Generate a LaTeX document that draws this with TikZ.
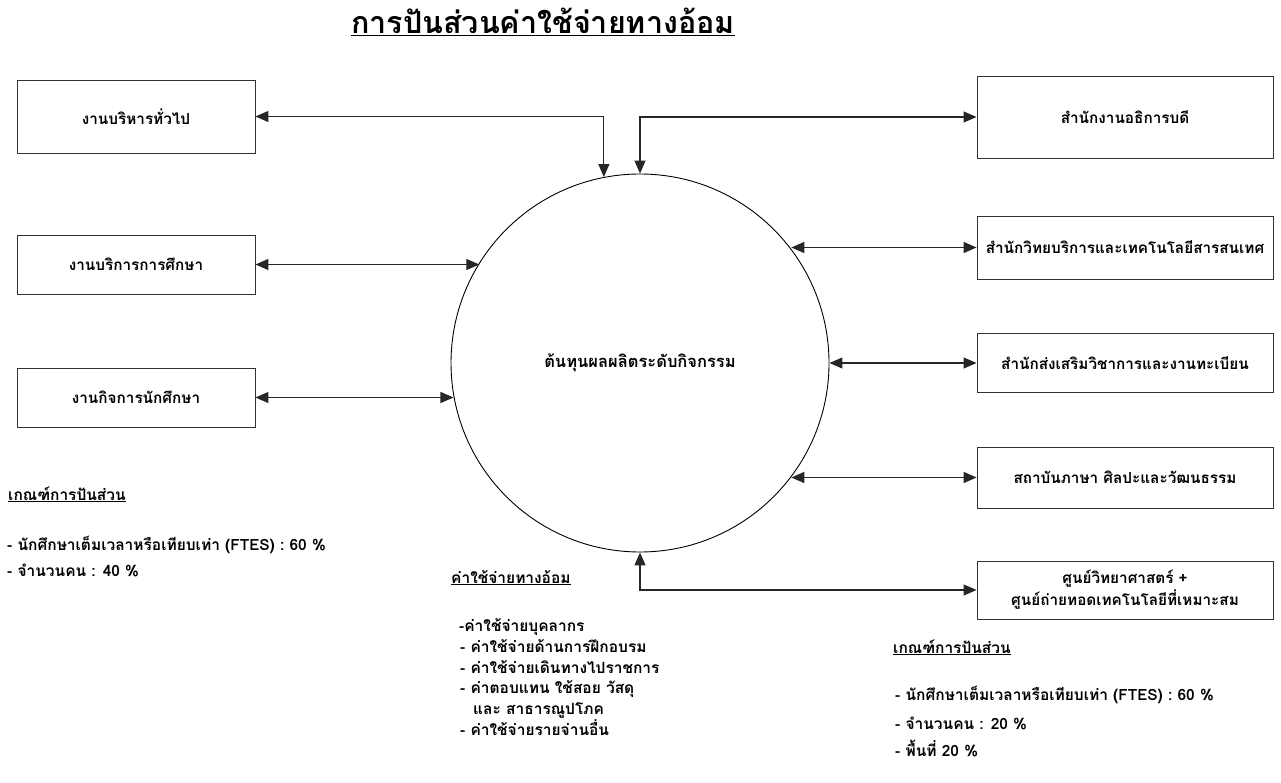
\documentclass[tikz,border=0pt]{standalone}
\usepackage{fontspec}
\setmainfont[Script=Thai]{Loma}
\usetikzlibrary{arrows.meta}
\tikzset{
  box/.style={draw=black!80, line width=0.9pt, inner sep=2pt, align=center,
    font=\fontsize{15.3}{22}\selectfont\bfseries},
  lbox/.style={box, minimum width=238pt},
  rbox/.style={box, minimum width=296pt},
  conn/.style={black!85, line width=1.2pt,
    {Triangle[length=13pt,width=11pt]}-{Triangle[length=13pt,width=11pt]}},
  txt/.style={anchor=base west, inner sep=0pt, font=\fontsize{15.5}{18}\selectfont\bfseries},
}
\begin{document}
\begin{tikzpicture}[x=1pt,y=-1pt]
\useasboundingbox (0,0) rectangle (1281,783);
% title
\node[inner sep=0pt, anchor=base, font=\fontsize{30.5}{34}\selectfont\bfseries] (title) at (543,34) {\underline{การปันส่วนค่าใช้จ่ายทางอ้อม}};
% centre circle
\node[circle, draw=black, line width=0.9pt, minimum size=378pt, inner sep=0pt,
  font=\fontsize{16.5}{20}\selectfont\bfseries] (c) at (640,363) {ต้นทุนผลผลิตระดับกิจกรรม};
% left boxes
\node[lbox, minimum height=73pt] (b1) at (136,116.5) {งานบริหารทั่วไป};
\node[lbox, minimum height=59pt] (b2) at (136,264.5) {งานบริการการศึกษา};
\node[lbox, minimum height=59pt] (b3) at (136,397.5) {งานกิจการนักศึกษา};
% right boxes
\node[rbox, minimum height=82pt] (b6) at (1125,117) {สำนักงานอธิการบดี};
\node[rbox, minimum height=63pt] (b7) at (1125,247.5) {สำนักวิทยบริการและเทคโนโลยีสารสนเทศ};
\node[rbox, minimum height=59pt] (b8) at (1125,363) {สำนักส่งเสริมวิชาการและงานทะเบียน};
\node[rbox, minimum height=61pt] (b9) at (1125,477.5) {สถาบันภาษา ศิลปะและวัฒนธรรม};
\node[rbox, minimum height=58pt] (b10) at (1125,590) {ศูนย์วิทยาศาสตร์ +\\ศูนย์ถ่ายทอดเทคโนโลยีที่เหมาะสม};
% connectors
\draw[conn] (b1.east) -| (c.101.6);
\draw[conn] (b2.east) -- (b2.east -| c.148.6);
\draw[conn] (b3.east) -- (b3.east -| c.190.5);
\draw[conn] (b6.west) -| (c.north);
\draw[conn] (b7.west) -- (b7.west -| c.37.5);
\draw[conn] (b8.west) -- (b8.west -| c.east);
\draw[conn] (b9.west) -- (b9.west -| c.-37.3);
\draw[conn] (b10.west) -| (c.south);
% left criteria
\node[txt] (lh) at (8,500) {\underline{เกณฑ์การปันส่วน}};
\node[txt] (l1) at (7,550.5) {- นักศึกษาเต็มเวลาหรือเทียบเท่า (FTES) : 60 \%};
\node[txt] (l2) at (7,576.5) {- จำนวนคน : 40 \%};
% middle list
\node[txt] (mh) at (451,583) {\underline{ค่าใช้จ่ายทางอ้อม}};
\node[txt] (m1) at (459,631.5) {-ค่าใช้จ่ายบุคลากร};
\node[txt] (m2) at (460,652.5) {- ค่าใช้จ่ายด้านการฝึกอบรม};
\node[txt] (m3) at (460,673.5) {- ค่าใช้จ่ายเดินทางไปราชการ};
\node[txt] (m4) at (460,693.5) {- ค่าตอบแทน ใช้สอย วัสดุ};
\node[txt] (m5) at (473,714.5) {และ สาธารณูปโภค};
\node[txt] (m6) at (460,735.5) {- ค่าใช้จ่ายรายจ่านอื่น};
% right criteria
\node[txt] (rh) at (893,653) {\underline{เกณฑ์การปันส่วน}};
\node[txt] (r1) at (895,700.5) {- นักศึกษาเต็มเวลาหรือเทียบเท่า (FTES) : 60 \%};
\node[txt] (r2) at (895,729.5) {- จำนวนคน : 20 \%};
\node[txt] (r3) at (895,756.5) {- พื้นที่ 20 \%};
\end{tikzpicture}
\end{document}
